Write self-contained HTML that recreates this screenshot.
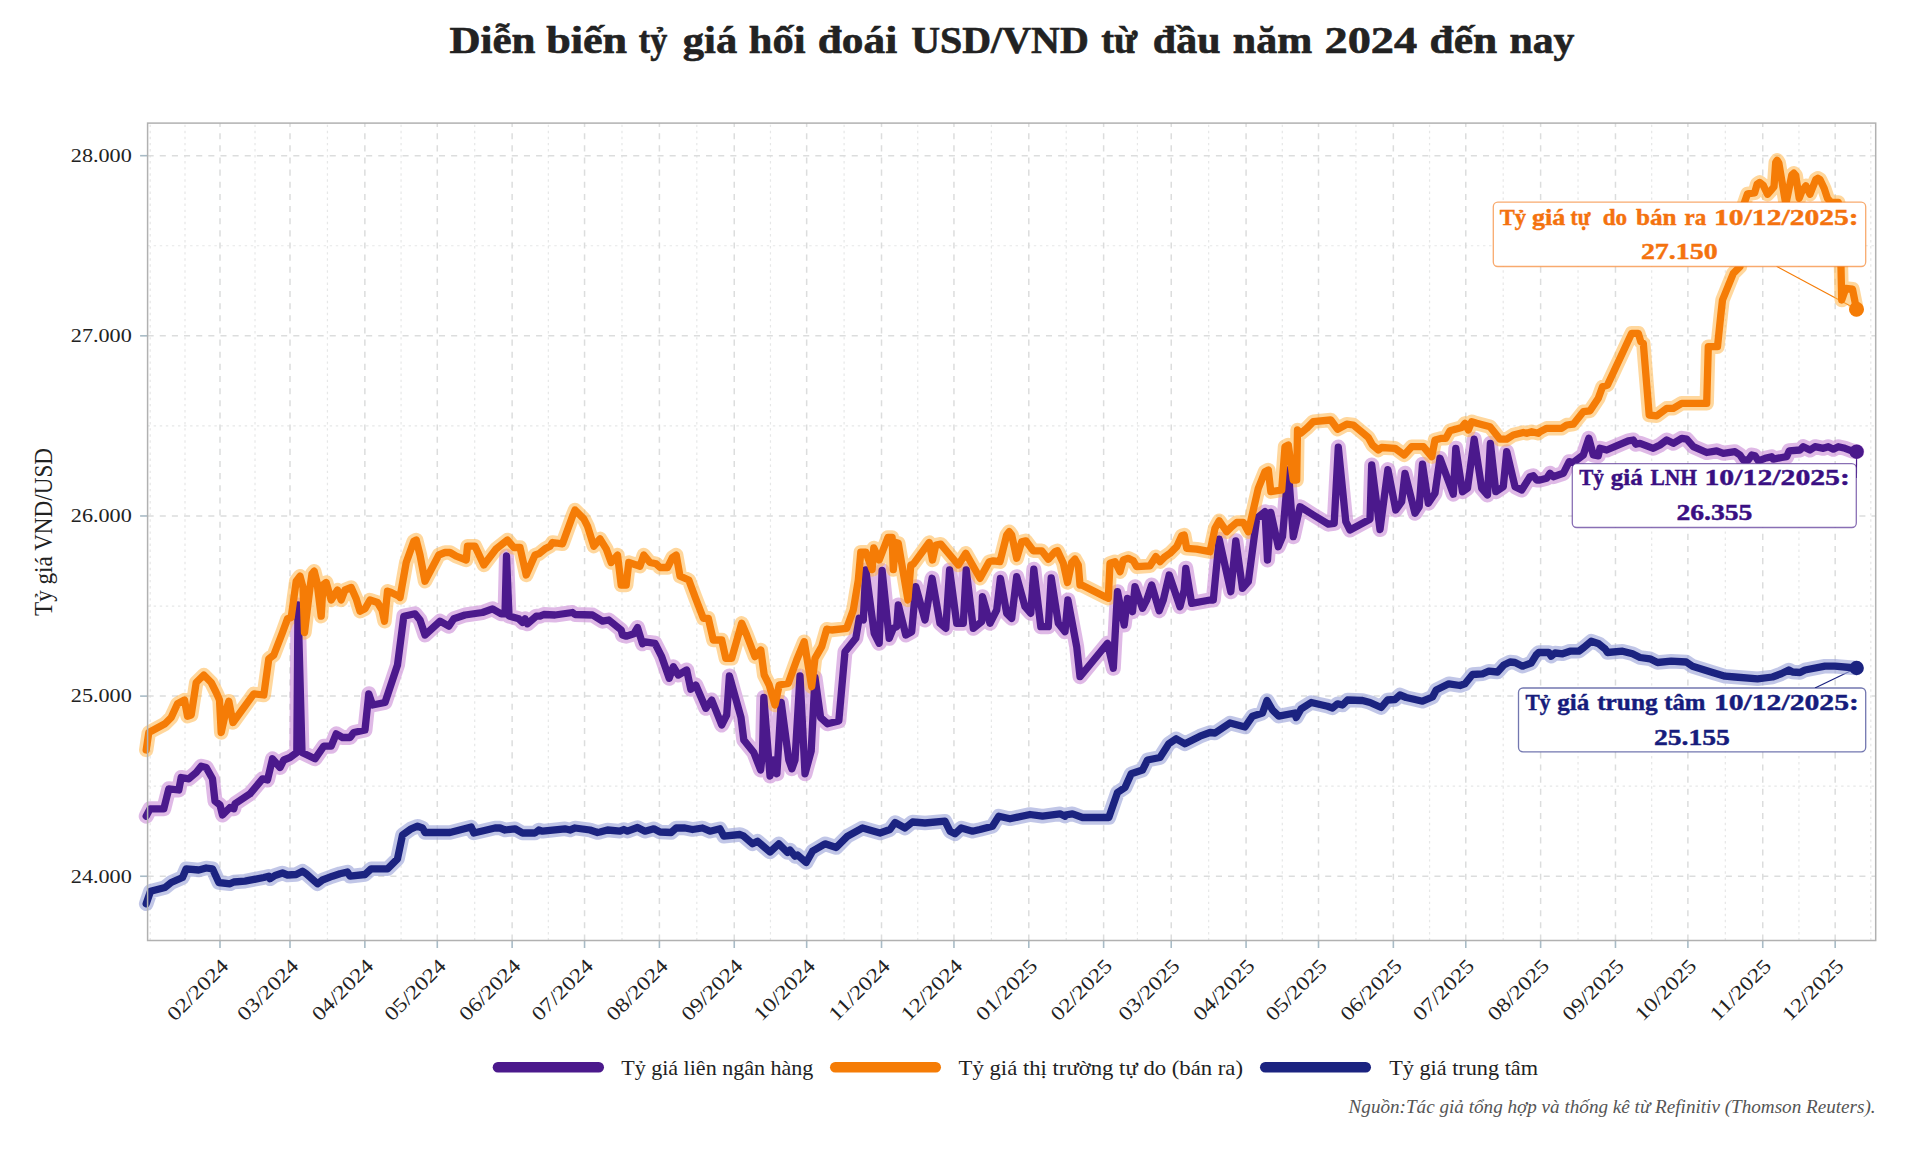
<!DOCTYPE html>
<html lang="vi"><head><meta charset="utf-8"><title>Tỷ giá USD/VND</title>
<style>html,body{margin:0;padding:0;background:#fff}body{width:1920px;height:1152px;overflow:hidden}svg{display:block}svg text{font-family:"Liberation Serif","DejaVu Serif",serif}</style></head>
<body>
<svg width="1920" height="1152" viewBox="0 0 1920 1152">
<rect width="1920" height="1152" fill="#ffffff"/>
<g stroke="#e6e7e7" stroke-width="1.2" stroke-dasharray="2.43 3.64" fill="none">
<path d="M150.20 940.5V123.1"/>
<path d="M185.00 940.5V123.1"/>
<path d="M255.01 940.5V123.1"/>
<path d="M327.44 940.5V123.1"/>
<path d="M401.07 940.5V123.1"/>
<path d="M474.71 940.5V123.1"/>
<path d="M548.34 940.5V123.1"/>
<path d="M621.98 940.5V123.1"/>
<path d="M696.82 940.5V123.1"/>
<path d="M770.46 940.5V123.1"/>
<path d="M844.10 940.5V123.1"/>
<path d="M917.73 940.5V123.1"/>
<path d="M991.37 940.5V123.1"/>
<path d="M1066.21 940.5V123.1"/>
<path d="M1137.43 940.5V123.1"/>
<path d="M1208.66 940.5V123.1"/>
<path d="M1282.29 940.5V123.1"/>
<path d="M1355.93 940.5V123.1"/>
<path d="M1429.56 940.5V123.1"/>
<path d="M1503.20 940.5V123.1"/>
<path d="M1578.04 940.5V123.1"/>
<path d="M1651.68 940.5V123.1"/>
<path d="M1725.32 940.5V123.1"/>
<path d="M1798.95 940.5V123.1"/>
<path d="M1870.80 940.5V123.1"/>
<path d="M147.6 786.18H1875.7"/>
<path d="M147.6 606.04H1875.7"/>
<path d="M147.6 425.90H1875.7"/>
<path d="M147.6 245.76H1875.7"/>
</g>
<g stroke="#dcdddd" stroke-width="1.5" stroke-dasharray="6.07 6.07" fill="none">
<path d="M220.00 940.5V123.1"/>
<path d="M290.01 940.5V123.1"/>
<path d="M364.86 940.5V123.1"/>
<path d="M437.29 940.5V123.1"/>
<path d="M512.13 940.5V123.1"/>
<path d="M584.56 940.5V123.1"/>
<path d="M659.40 940.5V123.1"/>
<path d="M734.25 940.5V123.1"/>
<path d="M806.67 940.5V123.1"/>
<path d="M881.52 940.5V123.1"/>
<path d="M953.95 940.5V123.1"/>
<path d="M1028.79 940.5V123.1"/>
<path d="M1103.63 940.5V123.1"/>
<path d="M1171.23 940.5V123.1"/>
<path d="M1246.08 940.5V123.1"/>
<path d="M1318.51 940.5V123.1"/>
<path d="M1393.35 940.5V123.1"/>
<path d="M1465.78 940.5V123.1"/>
<path d="M1540.62 940.5V123.1"/>
<path d="M1615.47 940.5V123.1"/>
<path d="M1687.89 940.5V123.1"/>
<path d="M1762.74 940.5V123.1"/>
<path d="M1835.17 940.5V123.1"/>
<path d="M147.6 876.25H1875.7"/>
<path d="M147.6 696.11H1875.7"/>
<path d="M147.6 515.97H1875.7"/>
<path d="M147.6 335.83H1875.7"/>
<path d="M147.6 155.69H1875.7"/>
</g>
<g stroke="#a8bbc6" stroke-width="1.6" fill="none">
<path d="M220.00 940.5v7.5"/>
<path d="M290.01 940.5v7.5"/>
<path d="M364.86 940.5v7.5"/>
<path d="M437.29 940.5v7.5"/>
<path d="M512.13 940.5v7.5"/>
<path d="M584.56 940.5v7.5"/>
<path d="M659.40 940.5v7.5"/>
<path d="M734.25 940.5v7.5"/>
<path d="M806.67 940.5v7.5"/>
<path d="M881.52 940.5v7.5"/>
<path d="M953.95 940.5v7.5"/>
<path d="M1028.79 940.5v7.5"/>
<path d="M1103.63 940.5v7.5"/>
<path d="M1171.23 940.5v7.5"/>
<path d="M1246.08 940.5v7.5"/>
<path d="M1318.51 940.5v7.5"/>
<path d="M1393.35 940.5v7.5"/>
<path d="M1465.78 940.5v7.5"/>
<path d="M1540.62 940.5v7.5"/>
<path d="M1615.47 940.5v7.5"/>
<path d="M1687.89 940.5v7.5"/>
<path d="M1762.74 940.5v7.5"/>
<path d="M1835.17 940.5v7.5"/>
<path d="M147.6 876.25h-7.5"/>
<path d="M147.6 696.11h-7.5"/>
<path d="M147.6 515.97h-7.5"/>
<path d="M147.6 335.83h-7.5"/>
<path d="M147.6 155.69h-7.5"/>
</g>
<path d="M1776.5 266.3L1856.5 309.2" stroke="#f57c06" stroke-width="1.2" fill="none"/>
<path d="M1856.4 478L1856.6 451.7" stroke="#4b198c" stroke-width="1.2" fill="none"/>
<path d="M1815 688L1856.6 668" stroke="#1b2380" stroke-width="1.2" fill="none"/>
<path d="M146.2 816.2 L150.0 808.8 L163.8 808.8 L168.8 788.8 L178.8 790.0 L181.2 777.5 L188.8 778.8 L196.2 772.5 L201.2 766.2 L206.2 767.5 L212.5 778.8 L215.0 801.2 L220.0 805.0 L222.5 815.0 L230.0 807.5 L233.8 808.8 L235.0 803.8 L250.0 793.8 L262.5 778.8 L267.5 780.0 L272.5 758.8 L280.0 767.5 L283.8 760.0 L290.0 757.5 L296.8 752.5 L298.0 605.0 L302.0 752.5 L315.0 758.8 L323.8 746.2 L331.2 746.2 L336.2 733.8 L342.5 737.5 L350.0 737.5 L353.8 732.5 L365.0 730.0 L368.8 693.8 L372.5 705.0 L385.0 702.5 L397.5 665.0 L403.8 616.2 L415.0 613.8 L420.0 620.0 L425.0 635.0 L440.0 621.2 L448.8 626.2 L453.8 618.8 L465.0 615.0 L482.5 612.5 L492.5 608.8 L501.2 613.8 L505.0 613.8 L506.5 556.0 L509.0 616.0 L518.8 618.8 L522.5 622.5 L525.0 618.8 L527.5 623.8 L536.2 616.2 L540.0 616.2 L543.8 614.5 L555.0 615.0 L572.5 612.5 L575.0 614.5 L592.5 615.0 L602.5 621.2 L608.8 620.0 L621.2 630.0 L622.5 635.0 L626.2 636.2 L633.8 633.8 L637.5 627.5 L642.5 643.8 L643.3 641.7 L655.0 643.3 L661.7 656.7 L669.2 678.3 L673.3 666.7 L678.3 675.0 L686.7 670.0 L690.8 689.2 L695.8 685.0 L705.8 708.3 L711.7 700.0 L721.7 725.0 L726.7 715.0 L729.4 676.0 L741.0 717.5 L743.8 740.0 L753.8 752.5 L760.6 770.0 L762.5 752.5 L763.8 697.5 L770.0 776.0 L773.8 760.0 L776.9 773.8 L781.2 702.5 L788.8 760.0 L791.9 768.8 L795.0 760.0 L800.0 676.0 L805.0 773.8 L811.2 751.0 L815.0 677.5 L820.6 717.5 L827.5 723.8 L838.8 721.0 L845.0 651.7 L855.8 638.3 L859.2 618.3 L863.3 620.0 L865.8 570.0 L874.2 633.3 L879.2 643.3 L882.1 570.4 L889.2 638.3 L893.3 628.3 L896.7 626.7 L898.3 605.0 L905.8 635.0 L911.7 631.7 L915.8 586.7 L925.0 620.0 L932.1 578.3 L940.0 623.3 L945.8 628.3 L949.6 570.0 L956.7 623.3 L963.3 623.3 L966.2 570.0 L973.3 628.3 L981.7 621.7 L982.5 596.7 L990.0 623.3 L996.7 610.0 L1000.4 578.3 L1006.7 613.3 L1011.7 618.3 L1016.7 576.7 L1025.0 606.7 L1030.8 613.3 L1033.8 569.2 L1040.8 626.7 L1048.3 626.7 L1051.2 577.9 L1058.3 623.3 L1065.0 631.7 L1067.9 600.0 L1076.7 646.7 L1080.0 676.7 L1107.5 643.3 L1113.3 668.3 L1117.5 591.7 L1124.2 625.0 L1127.5 598.3 L1132.5 611.7 L1135.0 586.7 L1142.5 608.3 L1146.7 600.0 L1151.7 585.0 L1159.2 610.8 L1163.3 600.0 L1169.2 575.0 L1180.0 606.7 L1184.2 590.0 L1185.8 568.3 L1191.7 603.3 L1210.0 600.0 L1213.3 600.0 L1219.2 539.2 L1230.8 591.7 L1235.8 540.8 L1242.5 588.3 L1248.3 581.7 L1256.7 518.3 L1265.0 511.7 L1267.5 560.0 L1270.8 512.5 L1278.3 546.7 L1282.5 536.7 L1288.3 470.0 L1293.3 536.7 L1300.0 506.7 L1313.3 515.0 L1328.3 524.2 L1334.2 523.3 L1338.3 447.1 L1345.8 521.7 L1350.0 530.0 L1370.0 519.2 L1371.7 465.0 L1380.0 529.6 L1387.9 469.6 L1395.8 510.0 L1401.7 501.7 L1405.0 473.3 L1415.0 513.3 L1419.2 506.7 L1422.5 464.2 L1428.3 503.3 L1435.0 493.3 L1440.0 458.3 L1453.3 494.2 L1455.8 448.3 L1462.5 491.7 L1467.5 488.3 L1474.2 439.2 L1481.7 488.3 L1487.5 495.0 L1490.4 443.3 L1495.8 491.7 L1503.3 486.7 L1506.7 451.7 L1515.0 486.7 L1521.7 490.0 L1530.0 476.7 L1533.3 475.8 L1536.7 480.0 L1540.0 480.0 L1546.7 478.3 L1550.0 473.3 L1553.3 476.7 L1563.3 473.3 L1569.2 461.7 L1573.3 462.5 L1583.3 455.0 L1588.8 438.3 L1593.3 455.0 L1598.3 455.8 L1600.0 448.3 L1606.7 450.0 L1628.3 440.8 L1633.3 440.0 L1635.8 444.2 L1640.0 443.3 L1653.3 448.3 L1660.0 445.0 L1666.7 440.0 L1673.3 443.3 L1681.7 438.3 L1686.7 439.2 L1693.3 446.7 L1706.7 452.5 L1716.7 450.8 L1723.3 453.3 L1735.0 451.7 L1740.0 455.0 L1743.3 460.0 L1748.3 460.0 L1751.7 455.0 L1755.0 455.8 L1758.3 460.8 L1765.0 458.3 L1771.7 456.7 L1773.3 459.2 L1781.7 457.5 L1786.7 456.7 L1789.2 450.8 L1800.0 450.0 L1803.3 446.7 L1810.0 450.0 L1815.0 446.7 L1823.3 448.3 L1828.3 446.7 L1833.3 449.2 L1838.3 446.7 L1845.0 448.3 L1851.7 450.8 L1856.7 451.7" fill="none" stroke="#ce93d8" stroke-opacity="0.65" stroke-width="15.0" stroke-linejoin="round" stroke-linecap="round"/>
<path d="M146.2 750.0 L148.8 732.5 L165.0 723.8 L171.2 717.5 L177.5 703.8 L184.5 700.0 L187.5 716.2 L191.2 715.0 L196.2 682.5 L203.8 675.0 L211.2 682.5 L216.2 692.5 L219.5 700.0 L221.2 732.5 L226.2 710.0 L228.8 701.2 L233.0 722.5 L253.8 693.8 L263.8 695.0 L268.8 658.8 L273.8 655.0 L282.5 632.5 L287.5 618.8 L291.2 617.5 L296.2 581.2 L300.0 576.2 L303.0 587.5 L304.5 632.5 L310.0 587.5 L312.0 573.8 L314.2 571.2 L317.0 582.5 L321.2 616.2 L323.0 585.0 L326.2 582.5 L331.2 600.0 L337.5 590.0 L341.2 600.0 L345.0 590.0 L351.2 587.5 L356.2 598.8 L360.0 611.2 L365.0 608.8 L370.0 600.0 L377.5 602.5 L382.0 610.0 L384.5 621.2 L387.5 591.2 L391.2 592.5 L398.8 596.2 L400.0 597.5 L406.2 562.5 L413.8 541.2 L416.2 540.0 L420.0 555.0 L425.0 581.2 L438.8 555.0 L445.0 552.5 L450.0 552.5 L456.2 556.2 L466.2 560.0 L467.5 546.2 L475.0 546.2 L483.8 565.0 L496.2 548.8 L502.5 543.8 L507.5 540.0 L513.8 547.5 L520.0 547.5 L526.2 575.0 L535.0 555.0 L538.8 553.8 L545.0 548.8 L550.0 546.2 L552.5 542.5 L562.5 543.8 L572.5 516.2 L575.0 510.0 L583.8 518.8 L587.5 526.2 L593.8 546.2 L600.0 538.8 L606.2 548.8 L611.2 562.5 L617.5 555.0 L621.2 585.0 L626.2 585.0 L628.8 562.5 L640.0 566.2 L643.8 555.0 L650.0 562.5 L656.2 563.8 L660.0 567.5 L667.5 567.5 L672.5 557.5 L676.2 555.0 L680.0 576.2 L688.8 580.0 L695.0 596.7 L703.3 618.3 L708.3 618.3 L713.3 640.0 L721.7 640.0 L725.8 658.3 L731.7 658.3 L741.7 623.3 L746.7 635.0 L755.0 656.7 L760.8 650.0 L764.2 675.0 L769.2 685.0 L775.0 705.0 L779.2 685.0 L788.3 683.3 L796.7 660.0 L804.2 641.7 L811.7 686.7 L815.0 658.3 L821.7 646.7 L826.7 629.2 L831.7 630.0 L846.7 628.3 L853.3 610.0 L858.3 580.0 L860.8 552.1 L865.8 552.1 L872.1 569.6 L873.8 547.9 L879.2 560.0 L887.9 537.5 L892.1 537.5 L893.3 569.6 L895.8 542.5 L898.3 543.3 L907.9 600.0 L910.8 565.0 L913.3 564.2 L929.2 542.5 L932.5 560.0 L935.8 545.0 L940.8 544.2 L958.3 565.0 L965.8 553.3 L980.0 578.3 L989.2 561.7 L993.3 560.8 L1000.0 561.7 L1006.7 535.0 L1009.2 531.7 L1011.7 535.0 L1016.7 558.3 L1021.7 541.7 L1025.8 540.8 L1033.3 550.8 L1041.7 550.8 L1048.3 559.2 L1055.0 551.7 L1057.5 550.8 L1063.3 563.3 L1067.5 582.5 L1071.7 562.5 L1075.0 559.2 L1078.3 565.0 L1080.0 585.0 L1081.7 585.0 L1105.0 596.7 L1108.3 598.3 L1110.0 563.3 L1115.0 561.7 L1120.0 571.7 L1123.3 560.0 L1128.3 558.3 L1133.3 560.8 L1136.7 566.7 L1150.0 565.8 L1155.8 556.7 L1160.0 561.7 L1165.0 556.7 L1170.0 553.3 L1176.7 546.7 L1181.7 535.8 L1184.2 535.0 L1186.7 548.3 L1196.7 549.2 L1210.0 551.7 L1215.0 528.3 L1219.2 520.8 L1226.7 531.7 L1231.7 526.7 L1236.7 522.5 L1243.3 522.5 L1248.3 531.7 L1248.3 531.7 L1258.3 488.3 L1265.0 471.7 L1268.3 470.0 L1270.8 491.7 L1281.7 490.0 L1285.0 446.7 L1288.3 445.0 L1293.3 480.0 L1296.7 480.0 L1297.5 430.0 L1300.8 433.3 L1306.7 428.3 L1313.3 421.7 L1330.8 420.0 L1337.5 429.2 L1346.7 424.2 L1353.3 425.0 L1363.3 433.3 L1368.3 437.5 L1372.5 445.0 L1378.3 450.0 L1381.7 447.5 L1395.0 448.3 L1404.2 455.0 L1411.7 446.7 L1423.3 446.7 L1431.7 456.7 L1435.0 440.0 L1441.7 438.3 L1445.8 438.3 L1450.0 430.8 L1461.7 427.5 L1465.0 423.3 L1468.3 430.0 L1471.7 421.7 L1476.7 423.3 L1490.0 426.7 L1500.0 439.2 L1506.7 439.2 L1513.3 435.0 L1523.3 432.5 L1526.7 433.3 L1531.7 431.7 L1538.3 433.3 L1540.0 431.7 L1546.7 428.3 L1561.7 428.3 L1566.7 425.0 L1573.3 424.2 L1583.3 411.7 L1590.0 410.8 L1598.3 398.3 L1602.5 386.7 L1607.5 385.0 L1631.7 333.3 L1638.3 333.3 L1640.8 341.7 L1643.3 343.3 L1649.2 415.0 L1656.7 415.8 L1666.7 408.3 L1673.3 408.3 L1681.7 403.3 L1706.7 403.3 L1708.3 346.7 L1717.5 346.7 L1720.8 315.0 L1722.5 300.0 L1733.3 273.3 L1740.0 266.7 L1744.2 203.3 L1747.5 193.8 L1754.6 192.9 L1757.1 184.2 L1759.6 182.4 L1763.3 185.4 L1767.5 194.2 L1771.7 189.6 L1774.0 186.7 L1775.7 162.5 L1777.1 160.3 L1778.8 162.9 L1785.8 204.2 L1791.8 175.0 L1793.8 173.2 L1795.7 175.4 L1799.2 198.3 L1802.1 190.8 L1805.8 185.8 L1810.0 194.2 L1815.8 179.6 L1817.9 178.2 L1820.0 179.6 L1824.2 188.3 L1827.5 198.3 L1830.8 202.1 L1838.3 202.5 L1840.0 220.0 L1841.7 300.0 L1845.8 288.3 L1852.5 289.2 L1856.5 309.2" fill="none" stroke="#ffb74d" stroke-opacity="0.55" stroke-width="14.4" stroke-linejoin="round" stroke-linecap="round"/>
<path d="M146.2 903.8 L150.5 891.2 L165.0 887.5 L171.2 882.5 L182.5 877.5 L186.2 868.8 L198.8 870.0 L206.2 868.0 L212.5 868.8 L218.8 882.5 L230.0 883.8 L233.8 882.0 L245.0 881.2 L263.8 877.5 L268.8 876.2 L270.0 878.8 L275.0 875.5 L282.5 873.0 L287.5 875.0 L296.2 874.5 L302.5 871.2 L306.2 873.8 L317.5 883.8 L322.5 880.0 L332.5 876.2 L340.0 873.8 L347.5 872.0 L350.0 876.2 L365.0 874.5 L371.2 868.8 L387.5 868.8 L397.5 858.8 L402.5 835.0 L411.2 828.8 L417.5 826.2 L422.5 828.0 L425.0 832.5 L450.0 832.5 L471.2 827.0 L473.8 833.0 L495.0 828.0 L500.0 828.0 L505.0 830.0 L515.0 828.8 L522.5 833.0 L535.0 833.0 L538.8 830.0 L542.5 831.2 L565.0 828.8 L570.0 830.0 L575.0 828.0 L590.0 830.0 L597.5 832.5 L600.0 832.0 L607.5 830.0 L620.0 831.2 L623.8 829.5 L627.5 831.2 L637.5 827.5 L645.0 831.2 L653.8 828.8 L660.0 832.0 L671.2 832.5 L676.2 828.0 L685.0 828.0 L692.5 829.5 L702.5 828.0 L710.0 831.2 L720.0 828.8 L723.8 836.2 L740.0 834.5 L743.8 836.2 L752.5 843.8 L757.5 841.2 L770.0 852.0 L778.8 843.8 L787.5 852.5 L790.0 850.0 L795.0 856.2 L797.5 855.0 L806.2 862.5 L812.5 851.2 L825.0 843.8 L836.2 847.5 L847.5 836.2 L862.5 828.0 L880.0 833.0 L890.0 829.5 L895.0 822.5 L905.0 828.0 L912.5 822.0 L925.0 823.0 L945.0 821.2 L950.0 831.2 L955.0 833.8 L961.2 828.0 L972.5 831.2 L980.0 829.5 L992.5 826.2 L998.8 816.2 L1010.0 818.8 L1030.0 814.5 L1042.5 816.2 L1060.0 813.8 L1065.0 816.2 L1065.0 815.0 L1072.5 813.8 L1082.5 817.5 L1108.8 817.5 L1117.5 792.5 L1125.0 787.5 L1131.2 773.8 L1142.5 770.0 L1147.5 760.0 L1160.0 757.5 L1168.8 743.8 L1176.2 738.8 L1185.0 743.8 L1200.0 736.2 L1210.0 732.5 L1215.0 733.0 L1230.0 723.0 L1245.0 727.0 L1252.5 716.2 L1262.5 713.0 L1267.0 700.5 L1272.5 710.0 L1278.8 716.2 L1295.0 713.0 L1296.2 717.5 L1301.2 708.8 L1311.2 702.5 L1327.5 706.2 L1332.5 708.0 L1337.5 703.8 L1342.5 705.0 L1347.5 700.0 L1362.5 700.5 L1370.0 702.5 L1381.2 707.5 L1387.5 700.0 L1395.0 699.5 L1400.0 695.0 L1406.2 697.5 L1415.0 699.5 L1422.5 701.2 L1432.5 697.0 L1436.2 690.0 L1448.8 683.8 L1460.0 685.5 L1465.0 683.8 L1472.5 674.5 L1482.5 673.8 L1488.8 671.2 L1497.5 672.0 L1503.8 665.0 L1510.0 662.0 L1515.0 662.5 L1522.5 666.2 L1531.2 663.0 L1536.2 655.0 L1538.8 652.5 L1548.8 652.5 L1551.2 656.2 L1555.0 653.0 L1562.5 653.8 L1570.0 651.2 L1578.8 651.2 L1583.8 647.5 L1591.2 641.2 L1598.8 643.8 L1605.0 648.8 L1607.5 652.5 L1622.5 651.2 L1632.5 653.8 L1640.0 657.5 L1650.0 658.8 L1657.5 662.5 L1671.2 661.2 L1686.2 662.0 L1692.5 666.2 L1712.5 672.5 L1725.0 676.2 L1735.0 677.0 L1757.5 678.8 L1772.5 677.0 L1781.2 673.8 L1788.8 670.0 L1792.5 672.0 L1800.0 672.5 L1805.0 670.0 L1825.0 666.2 L1835.0 666.2 L1850.0 667.5 L1856.5 668.0" fill="none" stroke="#9fa8da" stroke-opacity="0.65" stroke-width="14.6" stroke-linejoin="round" stroke-linecap="round"/>
<path d="M146.2 816.2 L150.0 808.8 L163.8 808.8 L168.8 788.8 L178.8 790.0 L181.2 777.5 L188.8 778.8 L196.2 772.5 L201.2 766.2 L206.2 767.5 L212.5 778.8 L215.0 801.2 L220.0 805.0 L222.5 815.0 L230.0 807.5 L233.8 808.8 L235.0 803.8 L250.0 793.8 L262.5 778.8 L267.5 780.0 L272.5 758.8 L280.0 767.5 L283.8 760.0 L290.0 757.5 L296.8 752.5 L298.0 605.0 L302.0 752.5 L315.0 758.8 L323.8 746.2 L331.2 746.2 L336.2 733.8 L342.5 737.5 L350.0 737.5 L353.8 732.5 L365.0 730.0 L368.8 693.8 L372.5 705.0 L385.0 702.5 L397.5 665.0 L403.8 616.2 L415.0 613.8 L420.0 620.0 L425.0 635.0 L440.0 621.2 L448.8 626.2 L453.8 618.8 L465.0 615.0 L482.5 612.5 L492.5 608.8 L501.2 613.8 L505.0 613.8 L506.5 556.0 L509.0 616.0 L518.8 618.8 L522.5 622.5 L525.0 618.8 L527.5 623.8 L536.2 616.2 L540.0 616.2 L543.8 614.5 L555.0 615.0 L572.5 612.5 L575.0 614.5 L592.5 615.0 L602.5 621.2 L608.8 620.0 L621.2 630.0 L622.5 635.0 L626.2 636.2 L633.8 633.8 L637.5 627.5 L642.5 643.8 L643.3 641.7 L655.0 643.3 L661.7 656.7 L669.2 678.3 L673.3 666.7 L678.3 675.0 L686.7 670.0 L690.8 689.2 L695.8 685.0 L705.8 708.3 L711.7 700.0 L721.7 725.0 L726.7 715.0 L729.4 676.0 L741.0 717.5 L743.8 740.0 L753.8 752.5 L760.6 770.0 L762.5 752.5 L763.8 697.5 L770.0 776.0 L773.8 760.0 L776.9 773.8 L781.2 702.5 L788.8 760.0 L791.9 768.8 L795.0 760.0 L800.0 676.0 L805.0 773.8 L811.2 751.0 L815.0 677.5 L820.6 717.5 L827.5 723.8 L838.8 721.0 L845.0 651.7 L855.8 638.3 L859.2 618.3 L863.3 620.0 L865.8 570.0 L874.2 633.3 L879.2 643.3 L882.1 570.4 L889.2 638.3 L893.3 628.3 L896.7 626.7 L898.3 605.0 L905.8 635.0 L911.7 631.7 L915.8 586.7 L925.0 620.0 L932.1 578.3 L940.0 623.3 L945.8 628.3 L949.6 570.0 L956.7 623.3 L963.3 623.3 L966.2 570.0 L973.3 628.3 L981.7 621.7 L982.5 596.7 L990.0 623.3 L996.7 610.0 L1000.4 578.3 L1006.7 613.3 L1011.7 618.3 L1016.7 576.7 L1025.0 606.7 L1030.8 613.3 L1033.8 569.2 L1040.8 626.7 L1048.3 626.7 L1051.2 577.9 L1058.3 623.3 L1065.0 631.7 L1067.9 600.0 L1076.7 646.7 L1080.0 676.7 L1107.5 643.3 L1113.3 668.3 L1117.5 591.7 L1124.2 625.0 L1127.5 598.3 L1132.5 611.7 L1135.0 586.7 L1142.5 608.3 L1146.7 600.0 L1151.7 585.0 L1159.2 610.8 L1163.3 600.0 L1169.2 575.0 L1180.0 606.7 L1184.2 590.0 L1185.8 568.3 L1191.7 603.3 L1210.0 600.0 L1213.3 600.0 L1219.2 539.2 L1230.8 591.7 L1235.8 540.8 L1242.5 588.3 L1248.3 581.7 L1256.7 518.3 L1265.0 511.7 L1267.5 560.0 L1270.8 512.5 L1278.3 546.7 L1282.5 536.7 L1288.3 470.0 L1293.3 536.7 L1300.0 506.7 L1313.3 515.0 L1328.3 524.2 L1334.2 523.3 L1338.3 447.1 L1345.8 521.7 L1350.0 530.0 L1370.0 519.2 L1371.7 465.0 L1380.0 529.6 L1387.9 469.6 L1395.8 510.0 L1401.7 501.7 L1405.0 473.3 L1415.0 513.3 L1419.2 506.7 L1422.5 464.2 L1428.3 503.3 L1435.0 493.3 L1440.0 458.3 L1453.3 494.2 L1455.8 448.3 L1462.5 491.7 L1467.5 488.3 L1474.2 439.2 L1481.7 488.3 L1487.5 495.0 L1490.4 443.3 L1495.8 491.7 L1503.3 486.7 L1506.7 451.7 L1515.0 486.7 L1521.7 490.0 L1530.0 476.7 L1533.3 475.8 L1536.7 480.0 L1540.0 480.0 L1546.7 478.3 L1550.0 473.3 L1553.3 476.7 L1563.3 473.3 L1569.2 461.7 L1573.3 462.5 L1583.3 455.0 L1588.8 438.3 L1593.3 455.0 L1598.3 455.8 L1600.0 448.3 L1606.7 450.0 L1628.3 440.8 L1633.3 440.0 L1635.8 444.2 L1640.0 443.3 L1653.3 448.3 L1660.0 445.0 L1666.7 440.0 L1673.3 443.3 L1681.7 438.3 L1686.7 439.2 L1693.3 446.7 L1706.7 452.5 L1716.7 450.8 L1723.3 453.3 L1735.0 451.7 L1740.0 455.0 L1743.3 460.0 L1748.3 460.0 L1751.7 455.0 L1755.0 455.8 L1758.3 460.8 L1765.0 458.3 L1771.7 456.7 L1773.3 459.2 L1781.7 457.5 L1786.7 456.7 L1789.2 450.8 L1800.0 450.0 L1803.3 446.7 L1810.0 450.0 L1815.0 446.7 L1823.3 448.3 L1828.3 446.7 L1833.3 449.2 L1838.3 446.7 L1845.0 448.3 L1851.7 450.8 L1856.7 451.7" fill="none" stroke="#4b198c" stroke-width="7.3" stroke-linejoin="round" stroke-linecap="round"/>
<path d="M146.2 750.0 L148.8 732.5 L165.0 723.8 L171.2 717.5 L177.5 703.8 L184.5 700.0 L187.5 716.2 L191.2 715.0 L196.2 682.5 L203.8 675.0 L211.2 682.5 L216.2 692.5 L219.5 700.0 L221.2 732.5 L226.2 710.0 L228.8 701.2 L233.0 722.5 L253.8 693.8 L263.8 695.0 L268.8 658.8 L273.8 655.0 L282.5 632.5 L287.5 618.8 L291.2 617.5 L296.2 581.2 L300.0 576.2 L303.0 587.5 L304.5 632.5 L310.0 587.5 L312.0 573.8 L314.2 571.2 L317.0 582.5 L321.2 616.2 L323.0 585.0 L326.2 582.5 L331.2 600.0 L337.5 590.0 L341.2 600.0 L345.0 590.0 L351.2 587.5 L356.2 598.8 L360.0 611.2 L365.0 608.8 L370.0 600.0 L377.5 602.5 L382.0 610.0 L384.5 621.2 L387.5 591.2 L391.2 592.5 L398.8 596.2 L400.0 597.5 L406.2 562.5 L413.8 541.2 L416.2 540.0 L420.0 555.0 L425.0 581.2 L438.8 555.0 L445.0 552.5 L450.0 552.5 L456.2 556.2 L466.2 560.0 L467.5 546.2 L475.0 546.2 L483.8 565.0 L496.2 548.8 L502.5 543.8 L507.5 540.0 L513.8 547.5 L520.0 547.5 L526.2 575.0 L535.0 555.0 L538.8 553.8 L545.0 548.8 L550.0 546.2 L552.5 542.5 L562.5 543.8 L572.5 516.2 L575.0 510.0 L583.8 518.8 L587.5 526.2 L593.8 546.2 L600.0 538.8 L606.2 548.8 L611.2 562.5 L617.5 555.0 L621.2 585.0 L626.2 585.0 L628.8 562.5 L640.0 566.2 L643.8 555.0 L650.0 562.5 L656.2 563.8 L660.0 567.5 L667.5 567.5 L672.5 557.5 L676.2 555.0 L680.0 576.2 L688.8 580.0 L695.0 596.7 L703.3 618.3 L708.3 618.3 L713.3 640.0 L721.7 640.0 L725.8 658.3 L731.7 658.3 L741.7 623.3 L746.7 635.0 L755.0 656.7 L760.8 650.0 L764.2 675.0 L769.2 685.0 L775.0 705.0 L779.2 685.0 L788.3 683.3 L796.7 660.0 L804.2 641.7 L811.7 686.7 L815.0 658.3 L821.7 646.7 L826.7 629.2 L831.7 630.0 L846.7 628.3 L853.3 610.0 L858.3 580.0 L860.8 552.1 L865.8 552.1 L872.1 569.6 L873.8 547.9 L879.2 560.0 L887.9 537.5 L892.1 537.5 L893.3 569.6 L895.8 542.5 L898.3 543.3 L907.9 600.0 L910.8 565.0 L913.3 564.2 L929.2 542.5 L932.5 560.0 L935.8 545.0 L940.8 544.2 L958.3 565.0 L965.8 553.3 L980.0 578.3 L989.2 561.7 L993.3 560.8 L1000.0 561.7 L1006.7 535.0 L1009.2 531.7 L1011.7 535.0 L1016.7 558.3 L1021.7 541.7 L1025.8 540.8 L1033.3 550.8 L1041.7 550.8 L1048.3 559.2 L1055.0 551.7 L1057.5 550.8 L1063.3 563.3 L1067.5 582.5 L1071.7 562.5 L1075.0 559.2 L1078.3 565.0 L1080.0 585.0 L1081.7 585.0 L1105.0 596.7 L1108.3 598.3 L1110.0 563.3 L1115.0 561.7 L1120.0 571.7 L1123.3 560.0 L1128.3 558.3 L1133.3 560.8 L1136.7 566.7 L1150.0 565.8 L1155.8 556.7 L1160.0 561.7 L1165.0 556.7 L1170.0 553.3 L1176.7 546.7 L1181.7 535.8 L1184.2 535.0 L1186.7 548.3 L1196.7 549.2 L1210.0 551.7 L1215.0 528.3 L1219.2 520.8 L1226.7 531.7 L1231.7 526.7 L1236.7 522.5 L1243.3 522.5 L1248.3 531.7 L1248.3 531.7 L1258.3 488.3 L1265.0 471.7 L1268.3 470.0 L1270.8 491.7 L1281.7 490.0 L1285.0 446.7 L1288.3 445.0 L1293.3 480.0 L1296.7 480.0 L1297.5 430.0 L1300.8 433.3 L1306.7 428.3 L1313.3 421.7 L1330.8 420.0 L1337.5 429.2 L1346.7 424.2 L1353.3 425.0 L1363.3 433.3 L1368.3 437.5 L1372.5 445.0 L1378.3 450.0 L1381.7 447.5 L1395.0 448.3 L1404.2 455.0 L1411.7 446.7 L1423.3 446.7 L1431.7 456.7 L1435.0 440.0 L1441.7 438.3 L1445.8 438.3 L1450.0 430.8 L1461.7 427.5 L1465.0 423.3 L1468.3 430.0 L1471.7 421.7 L1476.7 423.3 L1490.0 426.7 L1500.0 439.2 L1506.7 439.2 L1513.3 435.0 L1523.3 432.5 L1526.7 433.3 L1531.7 431.7 L1538.3 433.3 L1540.0 431.7 L1546.7 428.3 L1561.7 428.3 L1566.7 425.0 L1573.3 424.2 L1583.3 411.7 L1590.0 410.8 L1598.3 398.3 L1602.5 386.7 L1607.5 385.0 L1631.7 333.3 L1638.3 333.3 L1640.8 341.7 L1643.3 343.3 L1649.2 415.0 L1656.7 415.8 L1666.7 408.3 L1673.3 408.3 L1681.7 403.3 L1706.7 403.3 L1708.3 346.7 L1717.5 346.7 L1720.8 315.0 L1722.5 300.0 L1733.3 273.3 L1740.0 266.7 L1744.2 203.3 L1747.5 193.8 L1754.6 192.9 L1757.1 184.2 L1759.6 182.4 L1763.3 185.4 L1767.5 194.2 L1771.7 189.6 L1774.0 186.7 L1775.7 162.5 L1777.1 160.3 L1778.8 162.9 L1785.8 204.2 L1791.8 175.0 L1793.8 173.2 L1795.7 175.4 L1799.2 198.3 L1802.1 190.8 L1805.8 185.8 L1810.0 194.2 L1815.8 179.6 L1817.9 178.2 L1820.0 179.6 L1824.2 188.3 L1827.5 198.3 L1830.8 202.1 L1838.3 202.5 L1840.0 220.0 L1841.7 300.0 L1845.8 288.3 L1852.5 289.2 L1856.5 309.2" fill="none" stroke="#f57c06" stroke-width="7.3" stroke-linejoin="round" stroke-linecap="round"/>
<path d="M146.2 903.8 L150.5 891.2 L165.0 887.5 L171.2 882.5 L182.5 877.5 L186.2 868.8 L198.8 870.0 L206.2 868.0 L212.5 868.8 L218.8 882.5 L230.0 883.8 L233.8 882.0 L245.0 881.2 L263.8 877.5 L268.8 876.2 L270.0 878.8 L275.0 875.5 L282.5 873.0 L287.5 875.0 L296.2 874.5 L302.5 871.2 L306.2 873.8 L317.5 883.8 L322.5 880.0 L332.5 876.2 L340.0 873.8 L347.5 872.0 L350.0 876.2 L365.0 874.5 L371.2 868.8 L387.5 868.8 L397.5 858.8 L402.5 835.0 L411.2 828.8 L417.5 826.2 L422.5 828.0 L425.0 832.5 L450.0 832.5 L471.2 827.0 L473.8 833.0 L495.0 828.0 L500.0 828.0 L505.0 830.0 L515.0 828.8 L522.5 833.0 L535.0 833.0 L538.8 830.0 L542.5 831.2 L565.0 828.8 L570.0 830.0 L575.0 828.0 L590.0 830.0 L597.5 832.5 L600.0 832.0 L607.5 830.0 L620.0 831.2 L623.8 829.5 L627.5 831.2 L637.5 827.5 L645.0 831.2 L653.8 828.8 L660.0 832.0 L671.2 832.5 L676.2 828.0 L685.0 828.0 L692.5 829.5 L702.5 828.0 L710.0 831.2 L720.0 828.8 L723.8 836.2 L740.0 834.5 L743.8 836.2 L752.5 843.8 L757.5 841.2 L770.0 852.0 L778.8 843.8 L787.5 852.5 L790.0 850.0 L795.0 856.2 L797.5 855.0 L806.2 862.5 L812.5 851.2 L825.0 843.8 L836.2 847.5 L847.5 836.2 L862.5 828.0 L880.0 833.0 L890.0 829.5 L895.0 822.5 L905.0 828.0 L912.5 822.0 L925.0 823.0 L945.0 821.2 L950.0 831.2 L955.0 833.8 L961.2 828.0 L972.5 831.2 L980.0 829.5 L992.5 826.2 L998.8 816.2 L1010.0 818.8 L1030.0 814.5 L1042.5 816.2 L1060.0 813.8 L1065.0 816.2 L1065.0 815.0 L1072.5 813.8 L1082.5 817.5 L1108.8 817.5 L1117.5 792.5 L1125.0 787.5 L1131.2 773.8 L1142.5 770.0 L1147.5 760.0 L1160.0 757.5 L1168.8 743.8 L1176.2 738.8 L1185.0 743.8 L1200.0 736.2 L1210.0 732.5 L1215.0 733.0 L1230.0 723.0 L1245.0 727.0 L1252.5 716.2 L1262.5 713.0 L1267.0 700.5 L1272.5 710.0 L1278.8 716.2 L1295.0 713.0 L1296.2 717.5 L1301.2 708.8 L1311.2 702.5 L1327.5 706.2 L1332.5 708.0 L1337.5 703.8 L1342.5 705.0 L1347.5 700.0 L1362.5 700.5 L1370.0 702.5 L1381.2 707.5 L1387.5 700.0 L1395.0 699.5 L1400.0 695.0 L1406.2 697.5 L1415.0 699.5 L1422.5 701.2 L1432.5 697.0 L1436.2 690.0 L1448.8 683.8 L1460.0 685.5 L1465.0 683.8 L1472.5 674.5 L1482.5 673.8 L1488.8 671.2 L1497.5 672.0 L1503.8 665.0 L1510.0 662.0 L1515.0 662.5 L1522.5 666.2 L1531.2 663.0 L1536.2 655.0 L1538.8 652.5 L1548.8 652.5 L1551.2 656.2 L1555.0 653.0 L1562.5 653.8 L1570.0 651.2 L1578.8 651.2 L1583.8 647.5 L1591.2 641.2 L1598.8 643.8 L1605.0 648.8 L1607.5 652.5 L1622.5 651.2 L1632.5 653.8 L1640.0 657.5 L1650.0 658.8 L1657.5 662.5 L1671.2 661.2 L1686.2 662.0 L1692.5 666.2 L1712.5 672.5 L1725.0 676.2 L1735.0 677.0 L1757.5 678.8 L1772.5 677.0 L1781.2 673.8 L1788.8 670.0 L1792.5 672.0 L1800.0 672.5 L1805.0 670.0 L1825.0 666.2 L1835.0 666.2 L1850.0 667.5 L1856.5 668.0" fill="none" stroke="#1b2380" stroke-width="7.3" stroke-linejoin="round" stroke-linecap="round"/>
<circle cx="1856.6" cy="451.7" r="7.2" fill="#4b198c"/>
<circle cx="1856.5" cy="309.2" r="7.5" fill="#f57c06"/>
<circle cx="1856.6" cy="668" r="7.2" fill="#1b2380"/>
<rect x="147.6" y="123.1" width="1728.10" height="817.40" fill="none" stroke="#b1b1b1" stroke-width="1.5"/>
<rect x="1493.3" y="202.2" width="372.4" height="64.3" rx="4.5" fill="#ffffff" stroke="#f4720e" stroke-opacity="0.6" stroke-width="1.3"/>
<text y="224.6" font-size="24" font-weight="bold" fill="#f4720e" stroke="#f4720e" stroke-width="0.45"><tspan x="1499.8" textLength="26.3" lengthAdjust="spacingAndGlyphs">Tỷ</tspan> <tspan x="1532.0" textLength="33.3" lengthAdjust="spacingAndGlyphs">giá</tspan> <tspan x="1570.6" textLength="19.8" lengthAdjust="spacingAndGlyphs">tự</tspan> <tspan x="1602.7" textLength="24.4" lengthAdjust="spacingAndGlyphs">do</tspan> <tspan x="1635.9" textLength="40.6" lengthAdjust="spacingAndGlyphs">bán</tspan> <tspan x="1684.4" textLength="21.8" lengthAdjust="spacingAndGlyphs">ra</tspan> <tspan x="1714.1" textLength="144.5" lengthAdjust="spacingAndGlyphs">10/12/2025:</tspan></text>
<text y="259.2" font-size="24" font-weight="bold" fill="#f4720e" stroke="#f4720e" stroke-width="0.45"><tspan x="1640.9" textLength="76.8" lengthAdjust="spacingAndGlyphs">27.150</tspan></text>
<rect x="1572.3" y="463.6" width="284.0" height="63.9" rx="4.5" fill="#ffffff" stroke="#3a0f82" stroke-opacity="0.6" stroke-width="1.3"/>
<text y="485.2" font-size="24" font-weight="bold" fill="#3a0f82" stroke="#3a0f82" stroke-width="0.45"><tspan x="1579.2" textLength="24.7" lengthAdjust="spacingAndGlyphs">Tỷ</tspan> <tspan x="1610.8" textLength="32.0" lengthAdjust="spacingAndGlyphs">giá</tspan> <tspan x="1650.5" textLength="46.6" lengthAdjust="spacingAndGlyphs">LNH</tspan> <tspan x="1704.5" textLength="145.4" lengthAdjust="spacingAndGlyphs">10/12/2025:</tspan></text>
<text y="520.3" font-size="24" font-weight="bold" fill="#3a0f82" stroke="#3a0f82" stroke-width="0.45"><tspan x="1676.4" textLength="76.0" lengthAdjust="spacingAndGlyphs">26.355</tspan></text>
<rect x="1518.5" y="688" width="347.2" height="63.8" rx="4.5" fill="#ffffff" stroke="#161c7c" stroke-opacity="0.6" stroke-width="1.3"/>
<text y="709.9" font-size="24" font-weight="bold" fill="#161c7c" stroke="#161c7c" stroke-width="0.45"><tspan x="1525.4" textLength="25.0" lengthAdjust="spacingAndGlyphs">Tỷ</tspan> <tspan x="1557.3" textLength="32.0" lengthAdjust="spacingAndGlyphs">giá</tspan> <tspan x="1597.2" textLength="60.5" lengthAdjust="spacingAndGlyphs">trung</tspan> <tspan x="1664.2" textLength="41.3" lengthAdjust="spacingAndGlyphs">tâm</tspan> <tspan x="1713.9" textLength="145.0" lengthAdjust="spacingAndGlyphs">10/12/2025:</tspan></text>
<text y="744.9" font-size="24" font-weight="bold" fill="#161c7c" stroke="#161c7c" stroke-width="0.45"><tspan x="1653.9" textLength="76.0" lengthAdjust="spacingAndGlyphs">25.155</tspan></text>
<text y="53.3" font-size="38" font-weight="bold" fill="#222222" stroke="#222222" stroke-width="0.6"><tspan x="449.5" textLength="86.0" lengthAdjust="spacingAndGlyphs">Diễn</tspan> <tspan x="546.2" textLength="81.0" lengthAdjust="spacingAndGlyphs">biến</tspan> <tspan x="638.8" textLength="28.4" lengthAdjust="spacingAndGlyphs">tỷ</tspan> <tspan x="682.8" textLength="54.4" lengthAdjust="spacingAndGlyphs">giá</tspan> <tspan x="748.8" textLength="56.7" lengthAdjust="spacingAndGlyphs">hối</tspan> <tspan x="817.8" textLength="79.4" lengthAdjust="spacingAndGlyphs">đoái</tspan> <tspan x="911.2" textLength="177.6" lengthAdjust="spacingAndGlyphs">USD/VND</tspan> <tspan x="1101.2" textLength="36.0" lengthAdjust="spacingAndGlyphs">từ</tspan> <tspan x="1152.8" textLength="67.7" lengthAdjust="spacingAndGlyphs">đầu</tspan> <tspan x="1232.8" textLength="79.4" lengthAdjust="spacingAndGlyphs">năm</tspan> <tspan x="1324.5" textLength="92.7" lengthAdjust="spacingAndGlyphs">2024</tspan> <tspan x="1429.5" textLength="67.7" lengthAdjust="spacingAndGlyphs">đến</tspan> <tspan x="1509.5" textLength="65.0" lengthAdjust="spacingAndGlyphs">nay</tspan></text>
<text x="70.8" y="882.55" font-size="19" fill="#222222" textLength="61" lengthAdjust="spacingAndGlyphs">24.000</text>
<text x="70.8" y="702.41" font-size="19" fill="#222222" textLength="61" lengthAdjust="spacingAndGlyphs">25.000</text>
<text x="70.8" y="522.27" font-size="19" fill="#222222" textLength="61" lengthAdjust="spacingAndGlyphs">26.000</text>
<text x="70.8" y="342.13" font-size="19" fill="#222222" textLength="61" lengthAdjust="spacingAndGlyphs">27.000</text>
<text x="70.8" y="161.99" font-size="19" fill="#222222" textLength="61" lengthAdjust="spacingAndGlyphs">28.000</text>
<text transform="translate(229.70 967.2) rotate(-45)" x="-77.5" y="0" font-size="20" fill="#222222" textLength="77.5" lengthAdjust="spacingAndGlyphs">02/2024</text>
<text transform="translate(299.71 967.2) rotate(-45)" x="-77.5" y="0" font-size="20" fill="#222222" textLength="77.5" lengthAdjust="spacingAndGlyphs">03/2024</text>
<text transform="translate(374.56 967.2) rotate(-45)" x="-77.5" y="0" font-size="20" fill="#222222" textLength="77.5" lengthAdjust="spacingAndGlyphs">04/2024</text>
<text transform="translate(446.99 967.2) rotate(-45)" x="-77.5" y="0" font-size="20" fill="#222222" textLength="77.5" lengthAdjust="spacingAndGlyphs">05/2024</text>
<text transform="translate(521.83 967.2) rotate(-45)" x="-77.5" y="0" font-size="20" fill="#222222" textLength="77.5" lengthAdjust="spacingAndGlyphs">06/2024</text>
<text transform="translate(594.26 967.2) rotate(-45)" x="-77.5" y="0" font-size="20" fill="#222222" textLength="77.5" lengthAdjust="spacingAndGlyphs">07/2024</text>
<text transform="translate(669.10 967.2) rotate(-45)" x="-77.5" y="0" font-size="20" fill="#222222" textLength="77.5" lengthAdjust="spacingAndGlyphs">08/2024</text>
<text transform="translate(743.95 967.2) rotate(-45)" x="-77.5" y="0" font-size="20" fill="#222222" textLength="77.5" lengthAdjust="spacingAndGlyphs">09/2024</text>
<text transform="translate(816.37 967.2) rotate(-45)" x="-77.5" y="0" font-size="20" fill="#222222" textLength="77.5" lengthAdjust="spacingAndGlyphs">10/2024</text>
<text transform="translate(891.22 967.2) rotate(-45)" x="-77.5" y="0" font-size="20" fill="#222222" textLength="77.5" lengthAdjust="spacingAndGlyphs">11/2024</text>
<text transform="translate(963.65 967.2) rotate(-45)" x="-77.5" y="0" font-size="20" fill="#222222" textLength="77.5" lengthAdjust="spacingAndGlyphs">12/2024</text>
<text transform="translate(1038.49 967.2) rotate(-45)" x="-77.5" y="0" font-size="20" fill="#222222" textLength="77.5" lengthAdjust="spacingAndGlyphs">01/2025</text>
<text transform="translate(1113.33 967.2) rotate(-45)" x="-77.5" y="0" font-size="20" fill="#222222" textLength="77.5" lengthAdjust="spacingAndGlyphs">02/2025</text>
<text transform="translate(1180.93 967.2) rotate(-45)" x="-77.5" y="0" font-size="20" fill="#222222" textLength="77.5" lengthAdjust="spacingAndGlyphs">03/2025</text>
<text transform="translate(1255.78 967.2) rotate(-45)" x="-77.5" y="0" font-size="20" fill="#222222" textLength="77.5" lengthAdjust="spacingAndGlyphs">04/2025</text>
<text transform="translate(1328.21 967.2) rotate(-45)" x="-77.5" y="0" font-size="20" fill="#222222" textLength="77.5" lengthAdjust="spacingAndGlyphs">05/2025</text>
<text transform="translate(1403.05 967.2) rotate(-45)" x="-77.5" y="0" font-size="20" fill="#222222" textLength="77.5" lengthAdjust="spacingAndGlyphs">06/2025</text>
<text transform="translate(1475.48 967.2) rotate(-45)" x="-77.5" y="0" font-size="20" fill="#222222" textLength="77.5" lengthAdjust="spacingAndGlyphs">07/2025</text>
<text transform="translate(1550.32 967.2) rotate(-45)" x="-77.5" y="0" font-size="20" fill="#222222" textLength="77.5" lengthAdjust="spacingAndGlyphs">08/2025</text>
<text transform="translate(1625.17 967.2) rotate(-45)" x="-77.5" y="0" font-size="20" fill="#222222" textLength="77.5" lengthAdjust="spacingAndGlyphs">09/2025</text>
<text transform="translate(1697.59 967.2) rotate(-45)" x="-77.5" y="0" font-size="20" fill="#222222" textLength="77.5" lengthAdjust="spacingAndGlyphs">10/2025</text>
<text transform="translate(1772.44 967.2) rotate(-45)" x="-77.5" y="0" font-size="20" fill="#222222" textLength="77.5" lengthAdjust="spacingAndGlyphs">11/2025</text>
<text transform="translate(1844.87 967.2) rotate(-45)" x="-77.5" y="0" font-size="20" fill="#222222" textLength="77.5" lengthAdjust="spacingAndGlyphs">12/2025</text>
<text transform="translate(52 532) rotate(-90)" x="-84" y="0" font-size="25" fill="#222222" textLength="168" lengthAdjust="spacingAndGlyphs">Tỷ giá VND/USD</text>
<path d="M497.9 1067.3H598.8" stroke="#4b198c" stroke-width="10.4" stroke-linecap="round" fill="none"/>
<text x="621.2" y="1075" font-size="21.5" fill="#222222" textLength="192.2" lengthAdjust="spacingAndGlyphs">Tỷ giá liên ngân hàng</text>
<path d="M835.2 1067.3H935.8" stroke="#f57c06" stroke-width="10.4" stroke-linecap="round" fill="none"/>
<text x="958.6" y="1075" font-size="21.5" fill="#222222" textLength="284.4" lengthAdjust="spacingAndGlyphs">Tỷ giá thị trường tự do (bán ra)</text>
<path d="M1265.2 1067.3H1365.8" stroke="#1b2380" stroke-width="10.4" stroke-linecap="round" fill="none"/>
<text x="1389.2" y="1075" font-size="21.5" fill="#222222" textLength="148.8" lengthAdjust="spacingAndGlyphs">Tỷ giá trung tâm</text>
<text x="1348.6" y="1112.8" font-size="18.5" font-style="italic" fill="#555555" textLength="527" lengthAdjust="spacingAndGlyphs">Nguồn:Tác giả tổng hợp và thống kê từ Refinitiv (Thomson Reuters).</text>
</svg>
</body></html>
